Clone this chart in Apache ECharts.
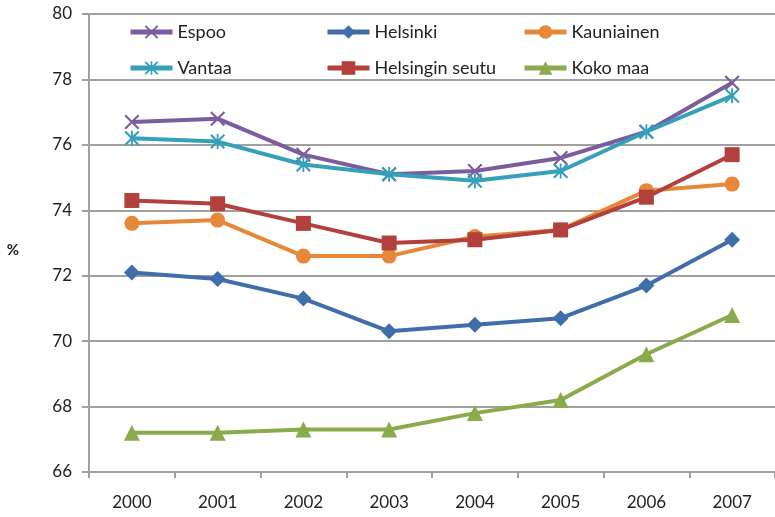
<!DOCTYPE html>
<html>
<head>
<meta charset="utf-8">
<script src="https://cdn.jsdelivr.net/npm/echarts@6/dist/echarts.min.js"></script>
<style>
html, body { margin: 0; padding: 0; background: #fff; }
#chart { width: 775px; height: 517px; }
</style>
</head>
<body>
<div id="chart"></div>
<script>
// vuodet
var years = ["2000", "2001", "2002", "2003", "2004", "2005", "2006", "2007"];

var espoo = [76.7, 76.8, 75.7, 75.1, 75.2, 75.6, 76.4, 77.9];
var vantaa = [76.2, 76.1, 75.4, 75.1, 74.9, 75.2, 76.4, 77.5];
var helsinginSeutu = [74.3, 74.2, 73.6, 73.0, 73.1, 73.4, 74.4, 75.7];
var kauniainen = [73.6, 73.7, 72.6, 72.6, 73.2, 73.4, 74.6, 74.8];
var helsinki = [72.1, 71.9, 71.3, 70.3, 70.5, 70.7, 71.7, 73.1];
var kokoMaa = [67.2, 67.2, 67.3, 67.3, 67.8, 68.2, 69.6, 70.8];

var FONT = "Lato";
var crossPath = "path://M0,1 L1,0 L5,4 L9,0 L10,1 L6,5 L10,9 L9,10 L5,6 L1,10 L0,9 L4,5 Z";
var starPath = "path://M0,1 L1,0 L5,4 L9,0 L10,1 L6,5 L10,9 L9,10 L5,6 L1,10 L0,9 L4,5 Z M4.4,0 L5.6,0 L5.6,10 L4.4,10 Z";

function mkSeries(name, data, color, symbol, size) {
  return {
    name: name,
    type: "line",
    data: data,
    symbol: symbol,
    symbolSize: size,
    lineStyle: { color: color, width: 4 },
    itemStyle: { color: color },
    emphasis: { disabled: true },
    animation: false
  };
}

function mkLegend(left, names) {
  return {
    orient: "vertical",
    left: left,
    top: 18,
    itemGap: 18,
    itemWidth: 42,
    itemHeight: 17,
    data: names,
    lineStyle: { width: 5 },
    textStyle: { fontFamily: FONT, fontSize: 18, color: "#222" }
  };
}

var myChart = echarts.init(document.getElementById("chart"));
var option = {
  backgroundColor: "#fff",
  animation: false,
  grid: { left: 89, right: -10, top: 14, bottom: 45 },
  legend: [
    mkLegend(123, ["Espoo", "Vantaa"]),
    mkLegend(320, ["Helsinki", "Helsingin seutu"]),
    mkLegend(517, ["Kauniainen", "Koko maa"])
  ],
  xAxis: {
    type: "category",
    data: years,
    boundaryGap: true,
    axisLine: { lineStyle: { color: "#a0a0a0", width: 2 } },
    axisTick: { show: true, length: 6, lineStyle: { color: "#a0a0a0", width: 2 } },
    axisLabel: { margin: 22, fontFamily: FONT, fontSize: 17, color: "#222" }
  },
  yAxis: {
    type: "value",
    min: 66,
    max: 80,
    interval: 2,
    name: "%",
    nameLocation: "middle",
    nameRotate: 0,
    nameGap: 70,
    nameTextStyle: { fontFamily: FONT, fontSize: 15, fontWeight: "bold", color: "#222", verticalAlign: "top" },
    axisLine: { show: true, lineStyle: { color: "#a0a0a0", width: 2 } },
    axisTick: { show: true, length: 7, lineStyle: { color: "#a0a0a0", width: 2 } },
    splitLine: { lineStyle: { color: "#a0a0a0", width: 2 } },
    axisLabel: { margin: 17, fontFamily: FONT, fontSize: 17, color: "#222" }
  },
  series: [
    mkSeries("Espoo", espoo, "#7b5d9e", crossPath, 15),
    mkSeries("Helsinki", helsinki, "#3f6eab", "diamond", 16),
    mkSeries("Kauniainen", kauniainen, "#e6873a", "circle", 15),
    mkSeries("Vantaa", vantaa, "#35a0b9", starPath, 15),
    mkSeries("Helsingin seutu", helsinginSeutu, "#b2403d", "rect", 15),
    mkSeries("Koko maa", kokoMaa, "#8aab4b", "triangle", 16)
  ]
};
myChart.setOption(option);
window.addEventListener("resize", function () {
  myChart.resize();
});
</script>
</body>
</html>
